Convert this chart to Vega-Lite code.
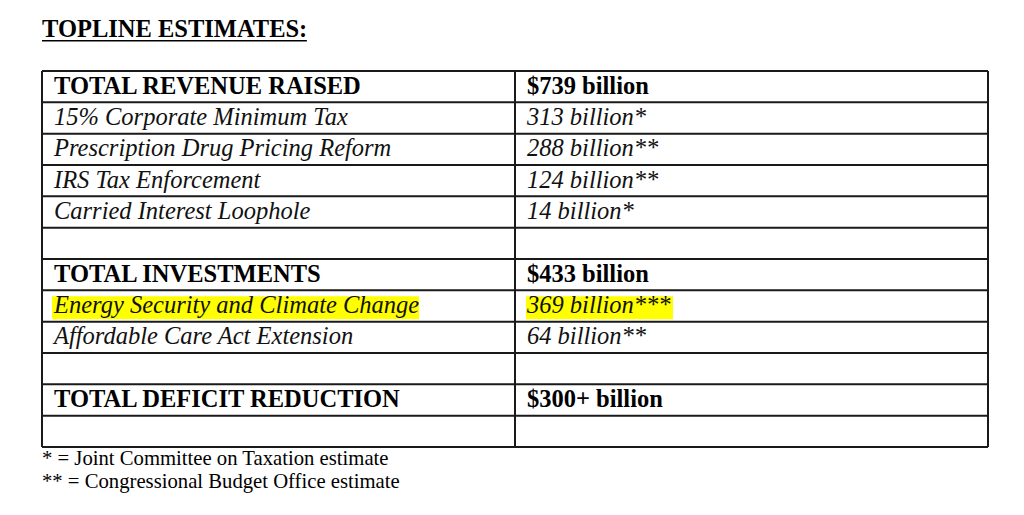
{
  "$schema": "https://vega.github.io/schema/vega-lite/v6.json",
  "width": 1024,
  "height": 515,
  "autosize": {"type": "fit", "contains": "padding"},
  "padding": 0,
  "background": "white",
  "view": {"stroke": null},
  "config": {"axis": {"disable": true}},
  "datasets": {
    "rows": [
      {"row": 0, "label": "TOTAL REVENUE RAISED", "value": "$739 billion", "type": "total", "highlight": false},
      {"row": 1, "label": "15% Corporate Minimum Tax", "value": "313 billion*", "type": "item", "highlight": false},
      {"row": 2, "label": "Prescription Drug Pricing Reform", "value": "288 billion**", "type": "item", "highlight": false},
      {"row": 3, "label": "IRS Tax Enforcement", "value": "124 billion**", "type": "item", "highlight": false},
      {"row": 4, "label": "Carried Interest Loophole", "value": "14 billion*", "type": "item", "highlight": false},
      {"row": 5, "label": "", "value": "", "type": "blank", "highlight": false},
      {"row": 6, "label": "TOTAL INVESTMENTS", "value": "$433 billion", "type": "total", "highlight": false},
      {"row": 7, "label": "Energy Security and Climate Change", "value": "369 billion***", "type": "item", "highlight": true},
      {"row": 8, "label": "Affordable Care Act Extension", "value": "64 billion**", "type": "item", "highlight": false},
      {"row": 9, "label": "", "value": "", "type": "blank", "highlight": false},
      {"row": 10, "label": "TOTAL DEFICIT REDUCTION", "value": "$300+ billion", "type": "total", "highlight": false},
      {"row": 11, "label": "", "value": "", "type": "blank", "highlight": false}
    ],
    "heading": [{"text": "TOPLINE ESTIMATES:"}],
    "note1": [{"text": "* = Joint Committee on Taxation estimate"}],
    "note2": [{"text": "** = Congressional Budget Office estimate"}]
  },
  "layer": [
    {
      "data": {"name": "rows"},
      "transform": [{"filter": "datum.highlight"}],
      "mark": {"type": "rect", "color": "#ffff00", "xOffset": 10, "x2Offset": 377, "yOffset": 6, "y2Offset": 29},
      "encoding": {
        "x": {"datum": 0, "type": "quantitative", "scale": {"domain": [-0.08879, 2.07611], "nice": false, "zero": false}},
        "x2": {"datum": 0},
        "y": {"field": "row", "type": "quantitative", "scale": {"domain": [-2.266, 14.1702], "nice": false, "zero": false, "reverse": true}},
        "y2": {"field": "row"}
      }
    },
    {
      "data": {"name": "rows"},
      "transform": [{"filter": "datum.highlight"}],
      "mark": {"type": "rect", "color": "#ffff00", "xOffset": 11, "x2Offset": 158, "yOffset": 6, "y2Offset": 29},
      "encoding": {
        "x": {"datum": 1, "type": "quantitative"},
        "x2": {"datum": 1},
        "y": {"field": "row", "type": "quantitative"},
        "y2": {"field": "row"}
      }
    },
    {
      "data": {"name": "rows"},
      "mark": {"type": "rule", "color": "#1a1a1a", "strokeWidth": 2},
      "encoding": {
        "x": {"datum": 0, "type": "quantitative"},
        "x2": {"datum": 2},
        "y": {"field": "row", "type": "quantitative"}
      }
    },
    {
      "data": {"values": [{"edge": "bottom"}]},
      "mark": {"type": "rule", "color": "#1a1a1a", "strokeWidth": 2},
      "encoding": {
        "x": {"datum": 0, "type": "quantitative"},
        "x2": {"datum": 2},
        "y": {"datum": 12, "type": "quantitative"}
      }
    },
    {
      "data": {"values": [{"edge": 0}, {"edge": 1}, {"edge": 2}]},
      "mark": {"type": "rule", "color": "#1a1a1a", "strokeWidth": 2},
      "encoding": {
        "x": {"field": "edge", "type": "quantitative"},
        "y": {"datum": 0, "type": "quantitative"},
        "y2": {"datum": 12}
      }
    },
    {
      "data": {"name": "rows"},
      "transform": [{"filter": "datum.type === 'total'"}],
      "mark": {"type": "text", "font": "Liberation Serif", "fontSize": 24.5, "fontWeight": "bold", "align": "left", "baseline": "alphabetic", "dx": 12, "dy": 22.8, "color": "#000000"},
      "encoding": {
        "x": {"datum": 0, "type": "quantitative"},
        "y": {"field": "row", "type": "quantitative"},
        "text": {"field": "label"}
      }
    },
    {
      "data": {"name": "rows"},
      "transform": [{"filter": "datum.type === 'total'"}],
      "mark": {"type": "text", "font": "Liberation Serif", "fontSize": 24.5, "fontWeight": "bold", "align": "left", "baseline": "alphabetic", "dx": 12, "dy": 22.8, "color": "#000000"},
      "encoding": {
        "x": {"datum": 1, "type": "quantitative"},
        "y": {"field": "row", "type": "quantitative"},
        "text": {"field": "value"}
      }
    },
    {
      "data": {"name": "rows"},
      "transform": [{"filter": "datum.type === 'item'"}],
      "mark": {"type": "text", "font": "Liberation Serif", "fontSize": 24.5, "fontStyle": "italic", "align": "left", "baseline": "alphabetic", "dx": 12, "dy": 22.5, "color": "#111111"},
      "encoding": {
        "x": {"datum": 0, "type": "quantitative"},
        "y": {"field": "row", "type": "quantitative"},
        "text": {"field": "label"}
      }
    },
    {
      "data": {"name": "rows"},
      "transform": [{"filter": "datum.type === 'item'"}],
      "mark": {"type": "text", "font": "Liberation Serif", "fontSize": 24.5, "fontStyle": "italic", "align": "left", "baseline": "alphabetic", "dx": 12, "dy": 22.5, "color": "#111111"},
      "encoding": {
        "x": {"datum": 1, "type": "quantitative"},
        "y": {"field": "row", "type": "quantitative"},
        "text": {"field": "value"}
      }
    },
    {
      "data": {"name": "heading"},
      "mark": {"type": "text", "font": "Liberation Serif", "fontSize": 24.5, "fontWeight": "bold", "align": "left", "baseline": "alphabetic", "color": "#000000"},
      "encoding": {
        "x": {"datum": 0, "type": "quantitative"},
        "y": {"datum": -1.095, "type": "quantitative"},
        "text": {"field": "text"}
      }
    },
    {
      "data": {"name": "heading"},
      "mark": {"type": "rule", "color": "#000000", "strokeWidth": 1.6},
      "encoding": {
        "x": {"datum": 0, "type": "quantitative"},
        "x2": {"datum": 0.56},
        "y": {"datum": -0.965, "type": "quantitative"}
      }
    },
    {
      "data": {"name": "note1"},
      "mark": {"type": "text", "font": "Liberation Serif", "fontSize": 20.7, "align": "left", "baseline": "alphabetic", "color": "#000000"},
      "encoding": {
        "x": {"datum": 0, "type": "quantitative"},
        "y": {"datum": 12.575, "type": "quantitative"},
        "text": {"field": "text"}
      }
    },
    {
      "data": {"name": "note2"},
      "mark": {"type": "text", "font": "Liberation Serif", "fontSize": 20.7, "align": "left", "baseline": "alphabetic", "color": "#000000"},
      "encoding": {
        "x": {"datum": 0, "type": "quantitative"},
        "y": {"datum": 13.32, "type": "quantitative"},
        "text": {"field": "text"}
      }
    }
  ]
}
